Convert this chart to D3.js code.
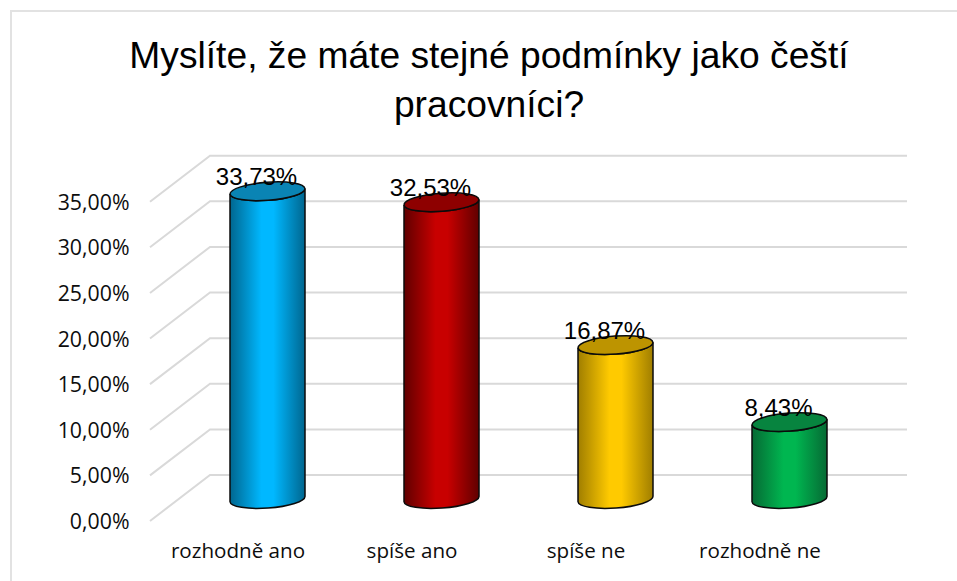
<!DOCTYPE html>
<html>
<head>
<meta charset="utf-8">
<script src="https://cdn.jsdelivr.net/npm/d3@7"></script>
<style>
html, body { margin: 0; padding: 0; background: #fff; }
svg { display: block; }
</style>
</head>
<body>
<svg id="chart" width="957" height="581"></svg>
<script>
const titleLines = ["Myslíte, že máte stejné podmínky jako čeští", "pracovníci?"];
const categories = ["rozhodně ano", "spíše ano", "spíše ne", "rozhodně ne"];
const shares = [33.73, 32.53, 16.87, 8.43];
const shareLabels = ["33,73%", "32,53%", "16,87%", "8,43%"];
const bodyColors = ["#00b8ff", "#c80000", "#ffca00", "#00b650"];
const edgeColors = ["#00668f", "#600000", "#a07e00", "#066a34"];
const capColors = ["#0a84b4", "#8e0000", "#bd9400", "#07843f"];
const yTicks = [0, 5, 10, 15, 20, 25, 30, 35];

const svg = d3.select("#chart");
const defs = svg.append("defs");

// Depth offset between the back wall and the front edge of the floor
const depthX = 60, depthY = 46;
const backY = d3.scaleLinear().domain([0, 35]).range([475, 155.7]);
const backX = d3.scaleBand().domain(categories).range([180.5, 876.5]);
const frontLabelX = d3.scaleBand().domain(categories).range([151, 847]);

// Frame: only the top and left sides fall inside the view
svg.append("path")
  .attr("d", "M957,11H11V581")
  .attr("fill", "none").attr("stroke", "#e2e2e2").attr("stroke-width", 2);

// Title
svg.append("g").selectAll("text").data(titleLines).join("text")
  .attr("x", 489).attr("y", (d, i) => 68 + i * 49)
  .attr("text-anchor", "middle")
  .attr("font-family", "Liberation Sans").attr("font-size", 37.2)
  .attr("fill", "#000").text(d => d);

// Gridlines run along the side wall, then across the back wall
const wallLeft = 210, wallRight = 907;
svg.append("g").selectAll("path").data(yTicks).join("path")
  .attr("d", d => `M${wallLeft - depthX},${backY(d) + depthY}L${wallLeft},${backY(d)}H${wallRight}`)
  .attr("fill", "none").attr("stroke", "#d9d9d9").attr("stroke-width", 2);

// Value axis labels sit at the front end of each gridline
svg.append("g").selectAll("text").data(yTicks).join("text")
  .attr("x", 129.5).attr("y", d => backY(d) + depthY + 8)
  .attr("text-anchor", "end")
  .attr("font-family", "Open Sans").attr("font-size", 21.3)
  .attr("fill", "#0d0d0d")
  .text(d => d3.format(".2f")(d).replace(".", ",") + "%");

// Category labels
svg.append("g").selectAll("text").data(categories).join("text")
  .attr("x", d => frontLabelX(d) + frontLabelX.bandwidth() / 2)
  .attr("y", 558)
  .attr("text-anchor", "middle")
  .attr("font-family", "Open Sans").attr("font-size", 20.6)
  .attr("fill", "#0d0d0d").text(d => d);

// Cylinders: shaded body with a tilted elliptical base and cap
const rx = 37.5, ry = 9, tilt = -4.2;
const floorOffset = 24;
const tiltRad = tilt * Math.PI / 180;
const slope = Math.tan(tiltRad);

categories.forEach((c, i) => {
  const grad = defs.append("linearGradient").attr("id", "body" + i)
    .attr("x1", 0).attr("x2", 1).attr("y1", 0).attr("y2", 0);
  grad.append("stop").attr("offset", 0).attr("stop-color", edgeColors[i]);
  grad.append("stop").attr("offset", 0.42).attr("stop-color", bodyColors[i]);
  grad.append("stop").attr("offset", 0.58).attr("stop-color", bodyColors[i]);
  grad.append("stop").attr("offset", 1).attr("stop-color", edgeColors[i]);
});

const bars = svg.append("g").selectAll("g").data(categories).join("g");

bars.append("path")
  .attr("d", (c, i) => {
    const cx = backX(c) + backX.bandwidth() / 2;
    const top = backY(shares[i]) + floorOffset, base = backY(0) + floorOffset;
    const l = cx - rx, r = cx + rx, dy = rx * slope;
    return `M${l},${top - dy}L${l},${base - dy}` +
      `A${rx},${ry} ${tilt} 0 0 ${r},${base + dy}` +
      `L${r},${top + dy}A${rx},${ry} ${tilt} 0 1 ${l},${top - dy}Z`;
  })
  .attr("fill", (c, i) => `url(#body${i})`)
  .attr("stroke", "#0b0b0b").attr("stroke-width", 1.5);

bars.append("ellipse")
  .attr("cx", 0).attr("cy", 0).attr("rx", rx).attr("ry", ry)
  .attr("transform", (c, i) => {
    const cx = backX(c) + backX.bandwidth() / 2;
    return `translate(${cx},${backY(shares[i]) + floorOffset}) rotate(${tilt})`;
  })
  .attr("fill", (c, i) => capColors[i])
  .attr("stroke", "#0b0b0b").attr("stroke-width", 1.5);

// Value labels overlap the top of each cap
svg.append("g").selectAll("text").data(categories).join("text")
  .attr("x", c => backX(c) + backX.bandwidth() / 2 - 11)
  .attr("y", (c, i) => backY(shares[i]) + floorOffset - 6.5)
  .attr("text-anchor", "middle")
  .attr("font-family", "Liberation Sans").attr("font-size", 24)
  .attr("fill", "#000").text((c, i) => shareLabels[i]);
</script>
</body>
</html>
